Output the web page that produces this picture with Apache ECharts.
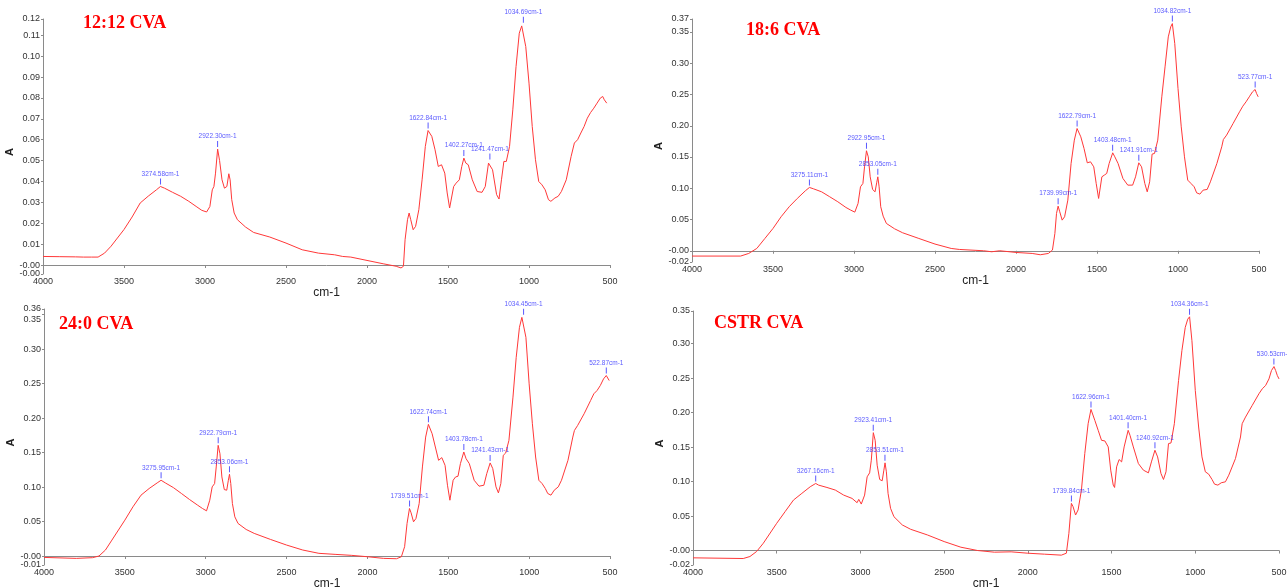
<!DOCTYPE html>
<html><head><meta charset="utf-8">
<script src="https://cdn.jsdelivr.net/npm/echarts@6/dist/echarts.min.js"></script>
<style>html,body{margin:0;padding:0;background:#fff}#c{width:1287px;height:588px}</style>
</head><body><div id="c"></div>
<script>
// ---------- DATA ----------
const titles = ['12:12 CVA', '18:6 CVA', '24:0 CVA', 'CSTR CVA'];
const xTicks = [4000, 3500, 3000, 2500, 2000, 1500, 1000, 500];

const wn1 = [4000,3900,3800,3750,3700,3660,3620,3580,3500,3450,3400,3350,3300,3275,3250,3200,3150,3100,3050,3020,3010,2990,2970,2955,2945,2935,2922,2910,2895,2880,2865,2853,2845,2835,2820,2800,2750,2700,2600,2500,2400,2300,2200,2150,2100,2000,1900,1820,1790,1775,1765,1750,1740,1730,1715,1700,1680,1660,1640,1623,1600,1580,1560,1540,1520,1505,1490,1480,1465,1450,1430,1415,1402,1390,1375,1350,1320,1290,1270,1250,1241,1225,1200,1185,1170,1155,1140,1120,1100,1080,1060,1045,1035,1020,1000,980,960,940,920,900,880,865,840,820,800,770,740,720,700,680,660,640,620,600,580,560,545,535,525,520];
const abs1 = [0.0041,0.0040,0.0039,0.0038,0.0038,0.0038,0.0057,0.009,0.017,0.023,0.0297,0.033,0.036,0.0376,0.0368,0.0348,0.0329,0.0305,0.0278,0.0262,0.0268,0.0254,0.028,0.036,0.0376,0.044,0.0555,0.050,0.0408,0.0368,0.0376,0.0437,0.0408,0.0313,0.0249,0.0217,0.0182,0.0156,0.0134,0.0105,0.0073,0.0057,0.0049,0.0041,0.0038,0.0022,0.0006,-0.0006,-0.0014,-0.0006,0.0121,0.0217,0.0249,0.0217,0.0169,0.0185,0.0265,0.0408,0.0568,0.0644,0.0616,0.0552,0.0472,0.048,0.044,0.0345,0.0273,0.0265,0.0376,0.0392,0.0408,0.0472,0.0512,0.0488,0.048,0.0408,0.0352,0.0348,0.0376,0.0488,0.0496,0.0456,0.0337,0.0316,0.0408,0.0496,0.0496,0.0568,0.0743,0.095,0.111,0.1145,0.115,0.1046,0.0871,0.0663,0.0504,0.04,0.0384,0.036,0.0313,0.0305,0.0321,0.0329,0.0352,0.0408,0.052,0.0584,0.06,0.0632,0.0663,0.0703,0.073,0.0751,0.0775,0.0799,0.0807,0.0791,0.0783,0.0775];

const wn2 = [4000,3700,3650,3600,3550,3500,3450,3400,3350,3300,3275,3250,3200,3150,3100,3050,3020,3010,2995,2975,2960,2945,2935,2923,2912,2900,2885,2870,2860,2853,2845,2835,2820,2800,2750,2700,2600,2500,2400,2350,2200,2150,2100,2000,1900,1850,1800,1775,1760,1750,1740,1730,1715,1700,1680,1660,1640,1623,1600,1580,1560,1540,1520,1505,1490,1482,1470,1455,1440,1425,1403,1390,1370,1340,1310,1280,1262,1242,1225,1205,1190,1175,1160,1145,1125,1100,1080,1060,1045,1035,1020,1000,980,960,940,920,900,885,865,845,820,800,760,730,720,700,660,620,600,580,560,540,524,515,505];
const abs2 = [-0.0085,-0.0085,-0.0043,0.0037,0.0197,0.0357,0.0544,0.0704,0.0837,0.096,0.1013,0.0991,0.0943,0.0864,0.0784,0.0693,0.065,0.0677,0.0618,0.0757,0.1023,0.1077,0.1343,0.16,0.1503,0.1183,0.098,0.0943,0.1087,0.1183,0.1023,0.0704,0.0554,0.0437,0.0352,0.0288,0.0197,0.0107,0.0037,0.0021,0,-0.0016,0,-0.0027,-0.0043,-0.0064,-0.0043,0.0011,0.0277,0.0597,0.0714,0.0624,0.049,0.0544,0.081,0.1397,0.177,0.1956,0.1823,0.1636,0.1407,0.1423,0.1343,0.1077,0.0837,0.081,0.1183,0.121,0.1237,0.1397,0.1567,0.1503,0.1397,0.1157,0.105,0.105,0.1183,0.1407,0.1343,0.1077,0.0943,0.1103,0.1546,0.1557,0.177,0.2463,0.2942,0.3422,0.3582,0.3635,0.3316,0.2596,0.1983,0.1503,0.113,0.1077,0.1023,0.0927,0.0906,0.097,0.0981,0.1103,0.1397,0.1663,0.178,0.185,0.2036,0.2223,0.2313,0.2383,0.2463,0.2543,0.258,0.2516,0.2463];

const wn3 = [4000,3800,3700,3660,3620,3580,3500,3450,3400,3350,3300,3276,3250,3200,3150,3100,3050,3020,3010,2995,2975,2960,2945,2935,2923,2912,2900,2885,2870,2860,2853,2845,2835,2820,2800,2750,2700,2600,2500,2400,2300,2200,2100,2000,1900,1820,1790,1770,1755,1740,1730,1715,1700,1680,1660,1640,1623,1600,1580,1560,1540,1520,1505,1490,1482,1470,1455,1440,1425,1404,1390,1370,1340,1310,1280,1262,1241,1225,1205,1190,1175,1160,1145,1125,1100,1080,1060,1045,1035,1020,1000,980,960,940,920,900,885,865,845,820,800,760,730,720,700,660,620,600,580,560,540,523,515,505];
const abs3 = [-0.002,-0.0034,-0.0024,0,0.0087,0.0231,0.052,0.0713,0.0882,0.0978,0.106,0.1098,0.106,0.0992,0.0906,0.0819,0.0737,0.0689,0.0713,0.0655,0.0809,0.1002,0.105,0.1291,0.1604,0.1484,0.1146,0.0963,0.0954,0.1098,0.1185,0.105,0.0761,0.0568,0.0472,0.0385,0.0328,0.0241,0.0159,0.0087,0.0039,0.0024,0.001,-0.001,-0.0034,-0.0039,-0.001,0.0135,0.0472,0.0689,0.0626,0.0496,0.0544,0.0761,0.1291,0.1724,0.1908,0.1773,0.158,0.1387,0.1426,0.1315,0.1026,0.0809,0.0785,0.1098,0.1146,0.1156,0.1339,0.1508,0.1411,0.1339,0.1098,0.1012,0.1026,0.1195,0.1349,0.1267,0.1002,0.0915,0.105,0.146,0.1493,0.1676,0.2303,0.288,0.3314,0.3459,0.3468,0.317,0.2495,0.1917,0.1435,0.1098,0.105,0.0978,0.0906,0.0882,0.0954,0.1002,0.1098,0.1387,0.1724,0.182,0.1893,0.2062,0.2254,0.2351,0.2399,0.2471,0.2567,0.2616,0.2592,0.2543];

const wn4 = [4000,3700,3660,3620,3580,3500,3450,3400,3350,3300,3267,3250,3200,3150,3100,3050,3020,3010,2995,2975,2960,2945,2935,2923,2912,2900,2885,2870,2860,2853,2845,2835,2820,2800,2750,2700,2600,2500,2400,2300,2200,2100,2000,1900,1800,1770,1755,1740,1730,1715,1700,1680,1660,1640,1623,1600,1580,1560,1540,1520,1505,1490,1482,1470,1455,1440,1425,1401,1390,1370,1340,1310,1280,1262,1241,1225,1205,1190,1175,1160,1145,1125,1100,1080,1060,1045,1034,1020,1000,980,960,940,920,900,885,865,845,820,800,760,730,720,700,660,620,600,580,560,545,530,520,510,500];
const abs4 = [-0.0106,-0.0116,-0.0087,-0.0014,0.0106,0.0395,0.0564,0.0732,0.0829,0.0925,0.0973,0.0949,0.0915,0.0877,0.0804,0.0756,0.0694,0.0742,0.0674,0.0804,0.1069,0.1127,0.131,0.171,0.1599,0.1238,0.1031,0.1012,0.1166,0.1272,0.1142,0.0829,0.0612,0.0491,0.0371,0.0308,0.0226,0.013,0.0048,0,-0.0024,-0.0019,-0.0039,-0.0053,-0.0067,-0.0039,0.025,0.0684,0.0636,0.0515,0.0588,0.0877,0.1407,0.184,0.2047,0.1888,0.1744,0.1599,0.159,0.1503,0.1166,0.0949,0.0915,0.1214,0.132,0.1286,0.1503,0.1744,0.1672,0.1503,0.1262,0.1166,0.1127,0.1286,0.1455,0.1358,0.1118,0.1031,0.1142,0.1551,0.1561,0.184,0.2466,0.29,0.3237,0.3357,0.3391,0.3044,0.2322,0.1792,0.1358,0.1142,0.1108,0.1031,0.0963,0.0949,0.0983,0.0997,0.1093,0.1334,0.1647,0.184,0.1936,0.2105,0.2274,0.2346,0.2394,0.249,0.2611,0.2669,0.2611,0.2539,0.249];

// y-axis tick values (first = axis min, last = axis max)
const yTicks1 = [-0.0043,0,0.01,0.02,0.03,0.04,0.05,0.06,0.07,0.08,0.09,0.10,0.11,0.1178];
const yTicks2 = [-0.018,0,0.05,0.10,0.15,0.20,0.25,0.30,0.35,0.3708];
const yTicks3 = [-0.013,0,0.05,0.10,0.15,0.20,0.25,0.30,0.35,0.358];
const yTicks4 = [-0.021,0,0.05,0.10,0.15,0.20,0.25,0.30,0.3475];

// peak annotations
const peakWn1 = [3274.58,2922.30,1622.84,1402.27,1241.47,1034.69];
const peakA1  = [0.0376,0.0555,0.0644,0.0512,0.0496,0.115];
const peakLbl1 = ['3274.58cm-1','2922.30cm-1','1622.84cm-1','1402.27cm-1','1241.47cm-1','1034.69cm-1'];

const peakWn2 = [3275.11,2922.95,2853.05,1739.99,1622.79,1403.48,1241.91,1034.82,523.77];
const peakA2  = [0.1013,0.16,0.1183,0.0714,0.1956,0.1567,0.1407,0.3635,0.258];
const peakLbl2 = ['3275.11cm-1','2922.95cm-1','2853.05cm-1','1739.99cm-1','1622.79cm-1','1403.48cm-1','1241.91cm-1','1034.82cm-1','523.77cm-1'];

const peakWn3 = [3275.95,2922.79,2853.06,1739.51,1622.74,1403.78,1241.43,1034.45,522.87];
const peakA3  = [0.1098,0.1604,0.1185,0.0689,0.1908,0.1508,0.1349,0.3468,0.2616];
const peakLbl3 = ['3275.95cm-1','2922.79cm-1','2853.06cm-1','1739.51cm-1','1622.74cm-1','1403.78cm-1','1241.43cm-1','1034.45cm-1','522.87cm-1'];

const peakWn4 = [3267.16,2923.41,2853.51,1739.84,1622.96,1401.40,1240.92,1034.36,530.53];
const peakA4  = [0.0973,0.171,0.1272,0.0684,0.2047,0.1744,0.1455,0.3391,0.2669];
const peakLbl4 = ['3267.16cm-1','2923.41cm-1','2853.51cm-1','1739.84cm-1','1622.96cm-1','1401.40cm-1','1240.92cm-1','1034.36cm-1','530.53cm-1'];

// ---------- LAYOUT / STYLE ----------
const panels = [
  {wn: wn1, a: abs1, yt: yTicks1, pw: peakWn1, pa: peakA1, pl: peakLbl1,
   grid: {left: 43, top: 19, width: 567, height: 255}, title: [83, 23]},
  {wn: wn2, a: abs2, yt: yTicks2, pw: peakWn2, pa: peakA2, pl: peakLbl2,
   grid: {left: 692, top: 19, width: 567, height: 243}, title: [746, 30]},
  {wn: wn3, a: abs3, yt: yTicks3, pw: peakWn3, pa: peakA3, pl: peakLbl3,
   grid: {left: 44, top: 309, width: 566, height: 256}, title: [59, 324]},
  {wn: wn4, a: abs4, yt: yTicks4, pw: peakWn4, pa: peakA4, pl: peakLbl4,
   grid: {left: 693, top: 311, width: 586, height: 254}, title: [714, 323]}
];

const AX = '#8a8a8a', TXT = '#333', RED = '#ff3838', BLUE = '#2f2fff';
const NARROW = '"Liberation Sans Narrow", "Liberation Sans", Arial, sans-serif';

const grids = [], xAxes = [], yAxes = [], series = [], graphics = [];
panels.forEach((p, i) => {
  grids.push(Object.assign({containLabel: false, outerBoundsMode: 'none'}, p.grid));
  xAxes.push({
    gridIndex: i, type: 'value', min: 500, max: 4000, interval: 500, inverse: true,
    axisLine: {lineStyle: {color: AX, width: 1}},
    axisTick: {length: 3, lineStyle: {color: AX}},
    axisLabel: {fontSize: 9, color: TXT, margin: 3, fontFamily: NARROW,
                customValues: xTicks, formatter: v => String(v)},
    splitLine: {show: false},
    name: 'cm-1', nameLocation: 'middle', nameGap: 12,
    nameTextStyle: {fontSize: 12, color: '#222', fontFamily: 'Liberation Sans, Arial'}
  });
  const ymin = p.yt[0], ymax = p.yt[p.yt.length - 1];
  yAxes.push({
    gridIndex: i, type: 'value', min: ymin, max: ymax,
    axisLine: {show: true, lineStyle: {color: AX, width: 1}},
    axisTick: {show: true, length: 2, customValues: p.yt, lineStyle: {color: AX}},
    axisLabel: {
      fontSize: 9, color: TXT, margin: 3, fontFamily: NARROW,
      customValues: p.yt, hideOverlap: false,
      formatter: function (v) {
        const s = (v === 0) ? '-0.00' : v.toFixed(2);
        if (i === 2 && Math.abs(v - 0.35) < 1e-9) return '{lo|' + s + '}';
        return s;
      },
      rich: {lo: {padding: [9, 0, 0, 0], fontSize: 9, color: TXT, fontFamily: NARROW}}
    },
    splitLine: {show: false},
    name: 'A', nameLocation: 'middle', nameGap: 28, nameRotate: 90,
    nameTextStyle: {fontSize: 11, fontWeight: 'bold', color: '#222',
                    fontFamily: 'Liberation Sans, Arial', padding: [0, 11, 0, 0]}
  });
  series.push({
    type: 'line', xAxisIndex: i, yAxisIndex: i,
    data: p.wn.map((w, k) => [w, p.a[k]]),
    showSymbol: false, symbol: 'none', silent: true,
    lineStyle: {color: RED, width: 1}, z: 2
  });
  series.push({
    type: 'scatter', xAxisIndex: i, yAxisIndex: i, silent: true,
    data: p.pw.map((w, k) => ({value: [w, p.pa[k]], name: p.pl[k]})),
    symbol: 'rect', symbolSize: [1, 6], symbolOffset: [0, -5],
    itemStyle: {color: BLUE},
    label: {show: true, position: 'top', distance: 1, formatter: '{b}',
            fontSize: 6.5, color: BLUE, fontFamily: NARROW},
    z: 3
  });
  graphics.push({
    type: 'text', x: p.title[0], y: p.title[1], silent: true,
    style: {text: titles[i], fill: '#ff0000', font: 'bold 18px "Liberation Serif", "Times New Roman", serif',
            verticalAlign: 'middle', align: 'left'}
  });
});

const chart = echarts.init(document.getElementById('c'), null, {renderer: 'canvas'});
chart.setOption({
  backgroundColor: '#fff', animation: false,
  grid: grids, xAxis: xAxes, yAxis: yAxes, series: series, graphic: graphics
});
</script>
</body></html>
